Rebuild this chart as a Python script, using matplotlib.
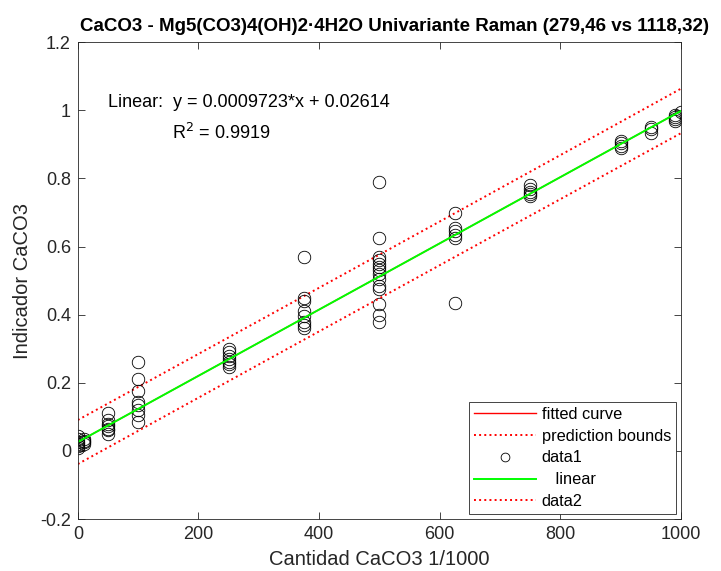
import numpy as np
import matplotlib
matplotlib.use('Agg')
from matplotlib import pyplot as plt

plt.rcParams['font.family'] = ['Liberation Sans', 'DejaVu Sans']

# Concentraciones (1/1000) y valores del indicador, agrupados por nivel
niveles = [0, 10, 50, 100, 250, 375, 500, 625, 750, 900, 950, 990, 1000]
indicador = [
    [0.045, 0.035, 0.025, 0.02, 0.015, 0.01],
    [0.035, 0.03, 0.025, 0.02],
    [0.11, 0.09, 0.08, 0.072, 0.065, 0.06, 0.05],
    [0.26, 0.21, 0.175, 0.145, 0.135, 0.12, 0.105, 0.085],
    [0.30, 0.29, 0.28, 0.27, 0.26, 0.255, 0.245],
    [0.57, 0.45, 0.44, 0.41, 0.395, 0.38, 0.37, 0.36],
    [0.79, 0.625, 0.57, 0.56, 0.55, 0.54, 0.53, 0.52, 0.505, 0.485, 0.475, 0.43, 0.40, 0.38],
    [0.70, 0.655, 0.645, 0.635, 0.625, 0.435],
    [0.78, 0.77, 0.76, 0.755, 0.75],
    [0.91, 0.905, 0.895, 0.89],
    [0.95, 0.945, 0.935],
    [0.985, 0.98, 0.975, 0.97],
    [0.995],
]

# Ajuste lineal reportado
pendiente = 0.0009723
intercepto = 0.02614
r2 = 0.9919
semiancho = 0.064  # semiancho de la banda de prediccion en el centro

x = np.concatenate([[n] * len(v) for n, v in zip(niveles, indicador)]).astype(float)
y = np.concatenate(indicador)

# Bandas de prediccion: se ensanchan lejos de la media de x
xs = np.linspace(0, 1000, 200)
ys = pendiente * xs + intercepto
n = len(x)
sxx = np.sum((x - x.mean()) ** 2)
forma = np.sqrt(1 + 1 / n + (xs - x.mean()) ** 2 / sxx) / np.sqrt(1 + 1 / n)
delta = semiancho * forma

gris = '#262626'
fig = plt.figure(figsize=(7.21, 5.71), dpi=100)
ax = fig.add_axes([0.108, 0.091, 0.8365, 0.835])

ax.plot(xs, ys, color='red', linewidth=1.0, label='fitted curve')
ax.plot(xs, ys + delta, color='red', linestyle=':', linewidth=1.4, label='prediction bounds')
ax.plot(x, y, linestyle='none', marker='o', markersize=9, markerfacecolor='none',
        markeredgecolor='black', markeredgewidth=0.6, label='data1')
ax.plot(xs, ys, color='#00ff00', linewidth=1.4, label='   linear')
ax.plot(xs, ys - delta, color='red', linestyle=':', linewidth=1.4, label='data2')

ax.text(50, 1.023, 'Linear:  y = 0.0009723*x + 0.02614', fontsize=13, va='center', color='black')
ax.text(156, 0.935, 'R$^2$ = %.4f' % r2, fontsize=13, va='center', color='black')

ax.set_xlim(0, 1000)
ax.set_ylim(-0.2, 1.2)
ax.set_xticks(range(0, 1001, 200))
ax.set_yticks(np.arange(-0.2, 1.21, 0.2))
ax.set_yticklabels(['-0.2', '0', '0.2', '0.4', '0.6', '0.8', '1', '1.2'])
ax.tick_params(direction='in', top=True, right=True, labelsize=13, colors=gris,
               length=5, width=0.6, pad=5)
for sp in ax.spines.values():
    sp.set_color(gris)
    sp.set_linewidth(0.6)

ax.set_xlabel('Cantidad CaCO3 1/1000', fontsize=14.5, color=gris, labelpad=5)
ax.set_ylabel('Indicador CaCO3', fontsize=14.5, color=gris, labelpad=6)
ax.set_title('CaCO3 - Mg5(CO3)4(OH)2·4H2O Univariante Raman (279,46 vs 1118,32)',
             fontsize=13.5, fontweight='bold', color='black', pad=8, x=0.525)

leg = ax.legend(loc='lower right', fontsize=11.8, fancybox=False, framealpha=1,
                edgecolor=gris, borderpad=0.3, labelspacing=0.42, handlelength=3.8,
                handletextpad=0.35, borderaxespad=0.3, markerscale=0.7)
leg.get_frame().set_linewidth(0.6)

plt.savefig('out.png', dpi=100)
